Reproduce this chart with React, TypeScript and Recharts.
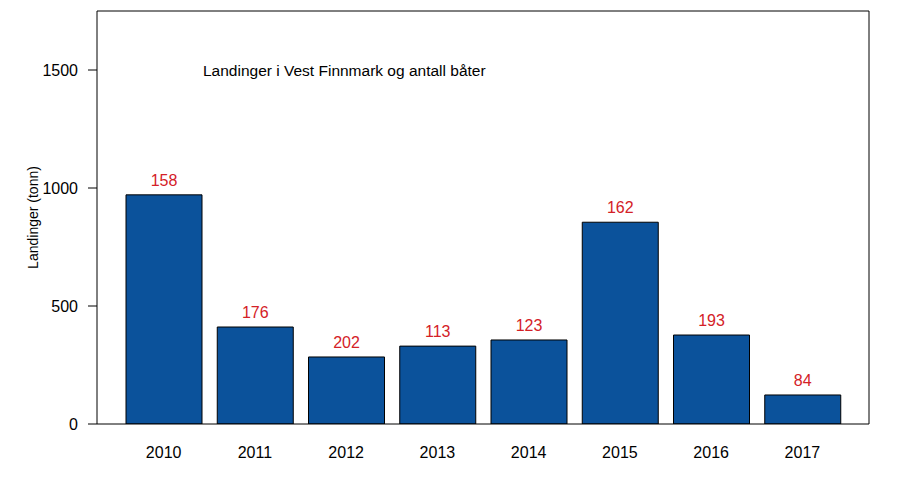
import React from 'react';
import { BarChart, Bar, XAxis, YAxis, LabelList } from 'recharts';

const years = ['2010', '2011', '2012', '2013', '2014', '2015', '2016', '2017'];
const landings = [971, 411, 284, 330, 356, 855, 377, 123];
const boats = [158, 176, 202, 113, 123, 162, 193, 84];
const yTicks = [0, 500, 1000, 1500];

const data = years.map((y, i) => ({ year: y, landings: landings[i], boats: boats[i] }));

const FONT = '"Liberation Sans", Arial, sans-serif';

const YLabel = (props: any) => {
  const vb = props.viewBox || {};
  const x = (vb.x ?? 37) - 4;
  const y = (vb.y ?? 11) + (vb.height ?? 413) / 2;
  return (
    <text x={x} y={y} transform={`rotate(-90 ${x} ${y})`} textAnchor="middle" dominantBaseline="central" fontSize={14} fill="#000" fontFamily={FONT}>
      Landinger (tonn)
    </text>
  );
};

export default function App() {
  return (
    <div style={{ position: 'absolute', left: 0, top: 0, width: 900, height: 500, background: '#fff', fontFamily: FONT }}>
      <BarChart width={900} height={500} data={data} margin={{ top: 10, right: 30, bottom: 36, left: 37 }} style={{ fontFamily: FONT }}>
        <XAxis
          dataKey="year"
          height={40}
          padding={{ left: 21, right: 21 }}
          axisLine={{ stroke: '#000' }}
          tickLine={false}
          tickSize={0}
          tickMargin={23}
          tick={{ fill: '#000', fontSize: 16 }}
        />
        <XAxis xAxisId="top" dataKey="year" orientation="top" height={1} tick={false} tickLine={false} axisLine={{ stroke: '#000' }} />
        <YAxis
          width={60}
          domain={[0, 1750]}
          ticks={yTicks}
          allowDataOverflow
          axisLine={{ stroke: '#000' }}
          tickLine={{ stroke: '#000' }}
          tickSize={9}
          tickMargin={10}
          tick={{ fill: '#000', fontSize: 16 }}
          label={<YLabel />}
        />
        <YAxis yAxisId="right" orientation="right" width={1} domain={[0, 1750]} tick={false} tickLine={false} axisLine={{ stroke: '#000' }} />
        <Bar dataKey="landings" fill="#0B529B" stroke="#000" strokeWidth={1} barSize={76} isAnimationActive={false}>
          <LabelList dataKey="boats" position="top" offset={9} fill="#D42127" fontSize={16} />
        </Bar>
      </BarChart>
      <div style={{ position: 'absolute', left: 203, top: 61, fontSize: 15.5, lineHeight: '20px', color: '#000', whiteSpace: 'nowrap' }}>
        Landinger i Vest Finnmark og antall båter
      </div>
    </div>
  );
}
